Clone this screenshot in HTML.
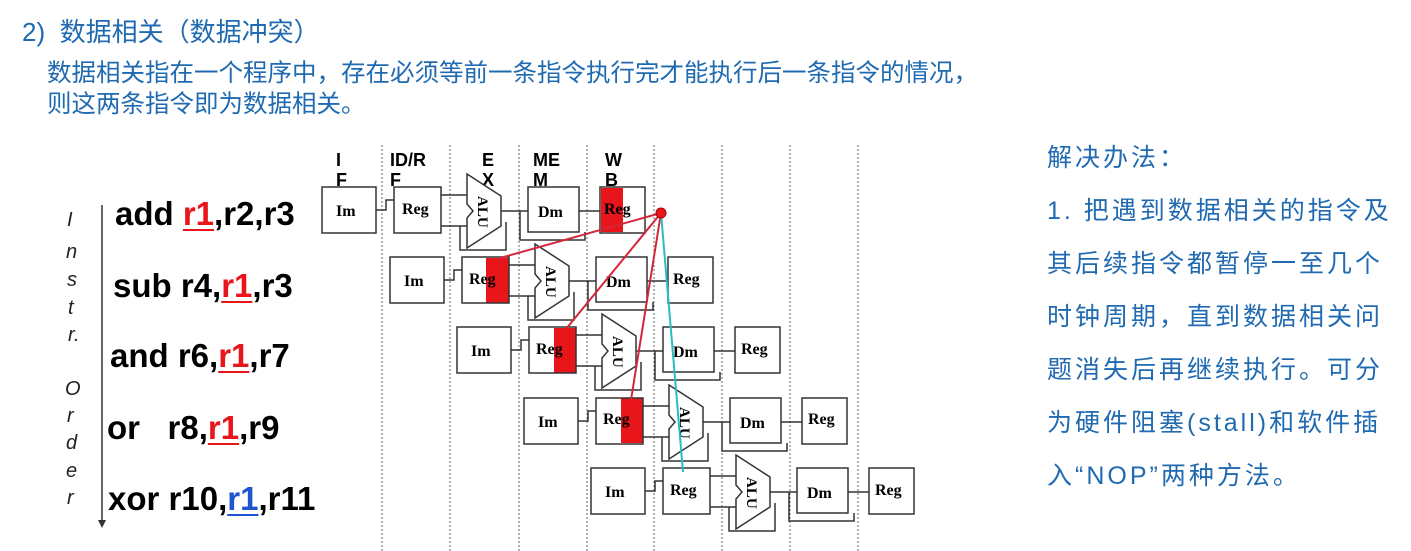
<!DOCTYPE html>
<html><head><meta charset="utf-8"><style>
body{margin:0;width:1411px;height:551px;background:#fff;overflow:hidden;position:relative;font-family:"Liberation Sans","Noto Sans CJK SC",sans-serif}
.t{position:absolute;white-space:nowrap;color:#1f6ab0}
.ins{position:absolute;white-space:pre;font-size:33px;font-weight:bold;color:#000;line-height:40px}
.r{color:#e8161b;text-decoration:underline;text-decoration-thickness:2px;text-underline-offset:4px}
.b{color:#1f55d0;text-decoration:underline;text-decoration-thickness:2px;text-underline-offset:4px}
</style></head><body>
<div class="t" style="left:22px;top:12px;font-size:26px">2)&nbsp; 数据相关（数据冲突）</div>
<div class="t" style="left:47px;top:58px;font-size:24.5px;line-height:31px">数据相关指在一个程序中，存在必须等前一条指令执行完才能执行后一条指令的情况，<br>则这两条指令即为数据相关。</div>
<div class="t" style="left:1047px;top:132px;font-size:25px;line-height:53px;letter-spacing:3px">解决办法：<br>1. 把遇到数据相关的指令及<br>其后续指令都暂停一至几个<br>时钟周期，直到数据相关问<br>题消失后再继续执行。可分<br>为硬件阻塞(stall)和软件插<br>入“NOP”两种方法。</div>
<div class="ins" style="left:115px;top:194px">add <span class="r">r1</span>,r2,r3</div>
<div class="ins" style="left:113px;top:266px">sub r4,<span class="r">r1</span>,r3</div>
<div class="ins" style="left:110px;top:336px">and r6,<span class="r">r1</span>,r7</div>
<div class="ins" style="left:107px;top:408px">or   r8,<span class="r">r1</span>,r9</div>
<div class="ins" style="left:108px;top:479px">xor r10,<span class="b">r1</span>,r11</div>
<svg width="1411" height="551" style="position:absolute;left:0;top:0" font-family="Liberation Sans, sans-serif">
<g stroke="#666" stroke-width="1" stroke-dasharray="2,2">
<line x1="382" y1="145" x2="382" y2="551"/><line x1="450" y1="145" x2="450" y2="551"/><line x1="519" y1="145" x2="519" y2="551"/><line x1="587" y1="145" x2="587" y2="551"/><line x1="654" y1="145" x2="654" y2="551"/><line x1="722" y1="145" x2="722" y2="551"/><line x1="790" y1="145" x2="790" y2="551"/><line x1="858" y1="145" x2="858" y2="551"/>
</g>
<g font-size="18" font-weight="bold" fill="#000">
<text x="336" y="166">I</text><text x="336" y="186">F</text>
<text x="390" y="166">ID/R</text><text x="390" y="186">F</text>
<text x="482" y="166">E</text><text x="482" y="186">X</text>
<text x="533" y="166">ME</text><text x="533" y="186">M</text>
<text x="605" y="166">W</text><text x="605" y="186">B</text>
</g>
<defs>
<g id="row">
<rect x="322" y="187" width="54" height="46" fill="#fff" stroke="#333" stroke-width="1.5"/>
<text x="336" y="216" font-family="Liberation Serif, serif" font-weight="bold" font-size="16">Im</text>
<path d="M376 210H386V200H394" fill="none" stroke="#333" stroke-width="1.5"/>
<rect x="394" y="187" width="47" height="46" fill="none" stroke="#333" stroke-width="1.5"/>
<path d="M441 195H470M441 226H470M460 226V250H506V222M501 211H528M520 211V240H585V232M579 211H600" fill="none" stroke="#333" stroke-width="1.5"/>
<polygon points="467,174 501,196 501,226 467,248 467,218 473,211 467,204" fill="#fff" stroke="#333" stroke-width="1.5"/>
<text x="0" y="0" transform="translate(478,196) rotate(90)" font-family="Liberation Serif, serif" font-weight="bold" font-size="15">ALU</text>
<rect x="528" y="187" width="51" height="45" fill="#fff" stroke="#333" stroke-width="1.5"/>
<text x="538" y="217" font-family="Liberation Serif, serif" font-weight="bold" font-size="16">Dm</text>
<rect x="600" y="187" width="45" height="46" fill="none" stroke="#333" stroke-width="1.5"/>
</g>
</defs>
<rect x="601" y="188" width="22" height="44" fill="#e8161b"/>
<rect x="486" y="258" width="23" height="45" fill="#e8161b"/>
<rect x="554" y="328" width="22" height="45" fill="#e8161b"/>
<rect x="621" y="398" width="22" height="45" fill="#e8161b"/>
<use href="#row"/>
<use href="#row" transform="translate(68,70)"/>
<use href="#row" transform="translate(135,140)"/>
<use href="#row" transform="translate(202,211)"/>
<use href="#row" transform="translate(269,281)"/>
<g font-family="Liberation Serif, serif" font-weight="bold" font-size="16">
<text x="402" y="214">Reg</text><text x="604" y="214">Reg</text>
<text x="469" y="284">Reg</text><text x="673" y="284">Reg</text>
<text x="536" y="354">Reg</text><text x="741" y="354">Reg</text>
<text x="603" y="424">Reg</text><text x="808" y="424">Reg</text>
<text x="670" y="495">Reg</text><text x="875" y="495">Reg</text>
</g>
<g stroke="#d4263a" stroke-width="2">
<line x1="661" y1="213" x2="500" y2="258"/><line x1="661" y1="213" x2="566" y2="329"/><line x1="661" y1="213" x2="631" y2="400"/>
</g>
<line x1="661" y1="213" x2="683" y2="472" stroke="#2bbcbf" stroke-width="2"/>
<circle cx="661" cy="213" r="5" fill="#e8161b" stroke="#a00" stroke-width="1"/>
<line x1="102" y1="205" x2="102" y2="522" stroke="#333" stroke-width="1.5"/>
<polygon points="98,520 106,520 102,528" fill="#333"/>
<g font-size="20" font-style="italic" fill="#222">
<text x="67" y="226">I</text><text x="66" y="258">n</text><text x="67" y="286">s</text><text x="68" y="314">t</text><text x="68" y="341">r.</text>
<text x="65" y="395">O</text><text x="67" y="422">r</text><text x="66" y="449">d</text><text x="66" y="477">e</text><text x="67" y="504">r</text>
</g>
</svg>
</body></html>
